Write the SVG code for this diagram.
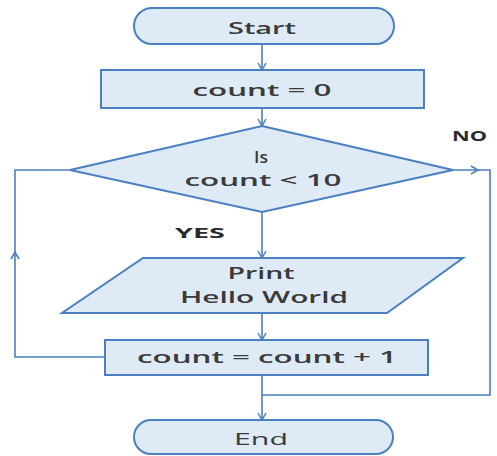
<svg xmlns="http://www.w3.org/2000/svg" width="497" height="456" viewBox="0 0 497 456">
  <style>
    .shape { fill: #dfeaf7; stroke: #4a7fc1; stroke-width: 2; }
    .line { fill: none; stroke: #4a7fc1; stroke-width: 1.6; }
    .head { fill: none; stroke: #4a7fc1; stroke-width: 1.6; }
    .t { font-family: "Open Sans", "Liberation Sans", sans-serif; font-size: 17px; font-weight: 600; fill: #3a3a3a; text-anchor: middle; }
    .thin { font-weight: 400; }
    .lbl { font-family: "Open Sans", "Liberation Sans", sans-serif; font-size: 15px; font-weight: 700; fill: #2a2a2a; }
  </style>
  <defs>
    <marker id="arrow" markerWidth="10" markerHeight="10" refX="8" refY="5" orient="auto" markerUnits="userSpaceOnUse">
      <path d="M1,1 L8,5 L1,9" fill="none" stroke="#4a7fc1" stroke-width="1.5"/>
    </marker>
  </defs>
  <rect width="497" height="456" fill="#ffffff"/>

  <g id="connectors">
    <line class="line" x1="262" y1="44" x2="262" y2="70" marker-end="url(#arrow)"/>
    <line class="line" x1="262" y1="108" x2="262" y2="126" marker-end="url(#arrow)"/>
    <line class="line" x1="262" y1="212" x2="262" y2="258" marker-end="url(#arrow)"/>
    <line class="line" x1="262" y1="313" x2="262" y2="340" marker-end="url(#arrow)"/>
    <line class="line" x1="262" y1="375" x2="262" y2="420" marker-end="url(#arrow)"/>
    <!-- NO branch: around the right side down to the End line -->
    <path class="line" d="M453,170 H490 V395 H262"/>
    <path class="head" d="M471,166 L478,170 L471,174"/>
    <!-- loop back from the increment to the decision -->
    <path class="line" d="M105,357 H15 V170 H70"/>
    <path class="head" d="M11,259 L15,252 L19,259"/>
  </g>

  <g id="start">
    <rect class="shape" x="134" y="8" width="260" height="36" rx="18" ry="18"/>
    <text class="t" x="262" y="34" textLength="68" lengthAdjust="spacingAndGlyphs">Start</text>
  </g>

  <g id="init">
    <rect class="shape" x="101" y="70" width="323" height="38"/>
    <text class="t" x="262" y="96" textLength="139" lengthAdjust="spacingAndGlyphs">count = 0</text>
  </g>

  <g id="decision">
    <polygon class="shape" points="262,126 453,170 262,212 70,170"/>
    <text class="t" x="261" y="163" textLength="14" lengthAdjust="spacingAndGlyphs">Is</text>
    <text class="t" x="263" y="186" textLength="157" lengthAdjust="spacingAndGlyphs">count &lt; 10</text>
  </g>

  <g id="print">
    <polygon class="shape" points="143,258 463,258 387,313 62,313"/>
    <text class="t" x="261" y="279" textLength="67" lengthAdjust="spacingAndGlyphs">Print</text>
    <text class="t" x="264" y="303" textLength="168" lengthAdjust="spacingAndGlyphs">Hello World</text>
  </g>

  <g id="increment">
    <rect class="shape" x="105" y="340" width="323" height="35"/>
    <text class="t" x="267" y="363" textLength="260" lengthAdjust="spacingAndGlyphs">count = count + 1</text>
  </g>

  <g id="end">
    <rect class="shape" x="134" y="420" width="259" height="34" rx="17" ry="17"/>
    <text class="t thin" x="261" y="445" textLength="54" lengthAdjust="spacingAndGlyphs">End</text>
  </g>

  <g id="labels">
    <text class="lbl" x="175" y="238" textLength="50" lengthAdjust="spacingAndGlyphs">YES</text>
    <text class="lbl" x="452" y="141" textLength="35" lengthAdjust="spacingAndGlyphs">NO</text>
  </g>
</svg>
